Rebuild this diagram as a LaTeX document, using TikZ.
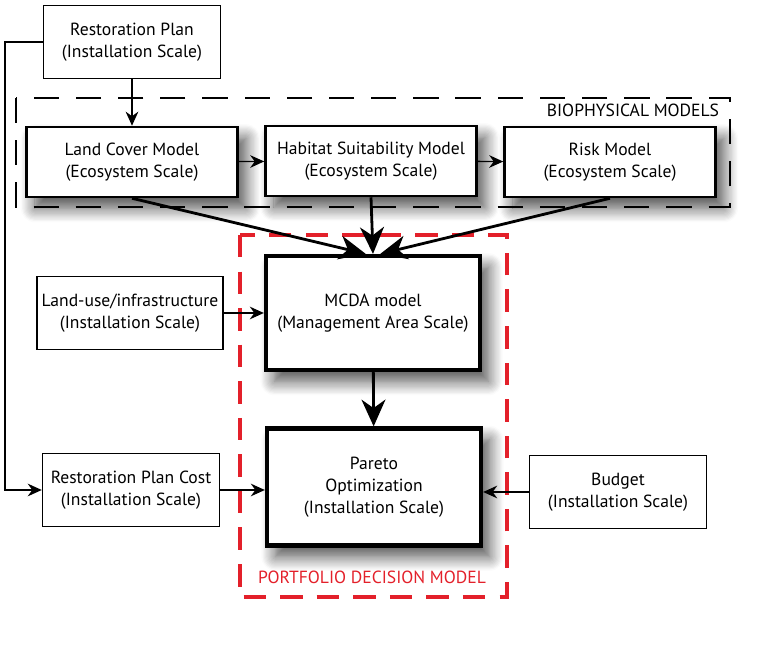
\documentclass[tikz,border=0pt]{standalone}
\usepackage{fontspec}
\setmainfont{PT Sans}
\usetikzlibrary{arrows.meta,shadows.blur}
\definecolor{pdmred}{HTML}{E3202A}

\begin{document}
\begin{tikzpicture}[x=0.025cm, y=-0.025cm, >=Stealth,
   soft/.style={blur shadow={shadow xshift=6pt, shadow yshift=-8pt, shadow blur radius=10pt, shadow blur steps=12, shadow opacity=70}},
   box/.style={rectangle, draw, fill=white, align=center, line width=1pt,
      font=\fontsize{12.5}{15.5}\selectfont, minimum width=4.425cm, minimum height=1.825cm},
   model/.style={box, soft, line width=1.8pt, minimum width=5.275cm, minimum height=1.75cm},
   core/.style={box, soft, line width=3pt, minimum width=5.35cm, minimum height=2.85cm},
   feed/.style={->, line width=1pt, >={Stealth[length=10pt,width=9pt]}},
   bigfeed/.style={->, line width=2pt, >={Stealth[length=19pt,width=17pt,inset=6pt]}}]
   \useasboundingbox (0,0) rectangle (779,648);

   % frames
   \draw[dashed, line width=1.6pt, dash pattern=on 18pt off 12pt] (16,98) rectangle (730,207);
   \node (bio) [anchor=east, font=\fontsize{12.5}{15}\selectfont] at (724,110) {BIOPHYSICAL MODELS};
   \draw[pdmred, line width=2.4pt, dash pattern=on 16pt off 10pt] (240,235) rectangle (507,597);
   \node (pdm) [text=pdmred, font=\fontsize{12.5}{15}\selectfont] at (372,577) {PORTFOLIO DECISION MODEL};

   % nodes
   \node (rp) at (132,42) [box] {Restoration Plan\\(Installation Scale)};
   \node (lc) at (132,162) [model] {Land Cover Model\\(Ecosystem Scale)};
   \node (hs) at (371,161) [model] {Habitat Suitability Model\\(Ecosystem Scale)};
   \node (risk) at (610,162) [model] {Risk Model\\(Ecosystem Scale)};
   \node (lu) at (130,313) [box] {Land-use/infrastructure\\(Installation Scale)};
   \node (mcda) at (373,313) [core] {MCDA model\\(Management Area Scale)};
   \node (rpc) at (131,490) [box] {Restoration Plan Cost\\(Installation Scale)};
   \node (pareto) at (374,487) [core, minimum height=2.925cm] {Pareto\\Optimization\\(Installation Scale)};
   \node (budget) at (618,492) [box] {Budget\\(Installation Scale)};
   \coordinate (bend) at (5,42);

   % connectors
   \draw[feed] (rp) -- (lc);
   \draw[feed] (rp.west) -- (bend) |- (rpc.west);
   \draw[feed] (lc) -- (hs);
   \draw[feed] (hs) -- (risk);
   \draw[bigfeed] (lc.south) -- (mcda.97);
   \draw[bigfeed] (hs.south) -- (mcda.north);
   \draw[bigfeed] (risk.south) -- (mcda.83);
   \draw[feed] (lu) -- (mcda);
   \draw[bigfeed] (mcda) -- (pareto);
   \draw[feed] (rpc) -- (rpc -| pareto.west);
   \draw[feed] (budget) -- (budget -| pareto.east);

\end{tikzpicture}
\end{document}
